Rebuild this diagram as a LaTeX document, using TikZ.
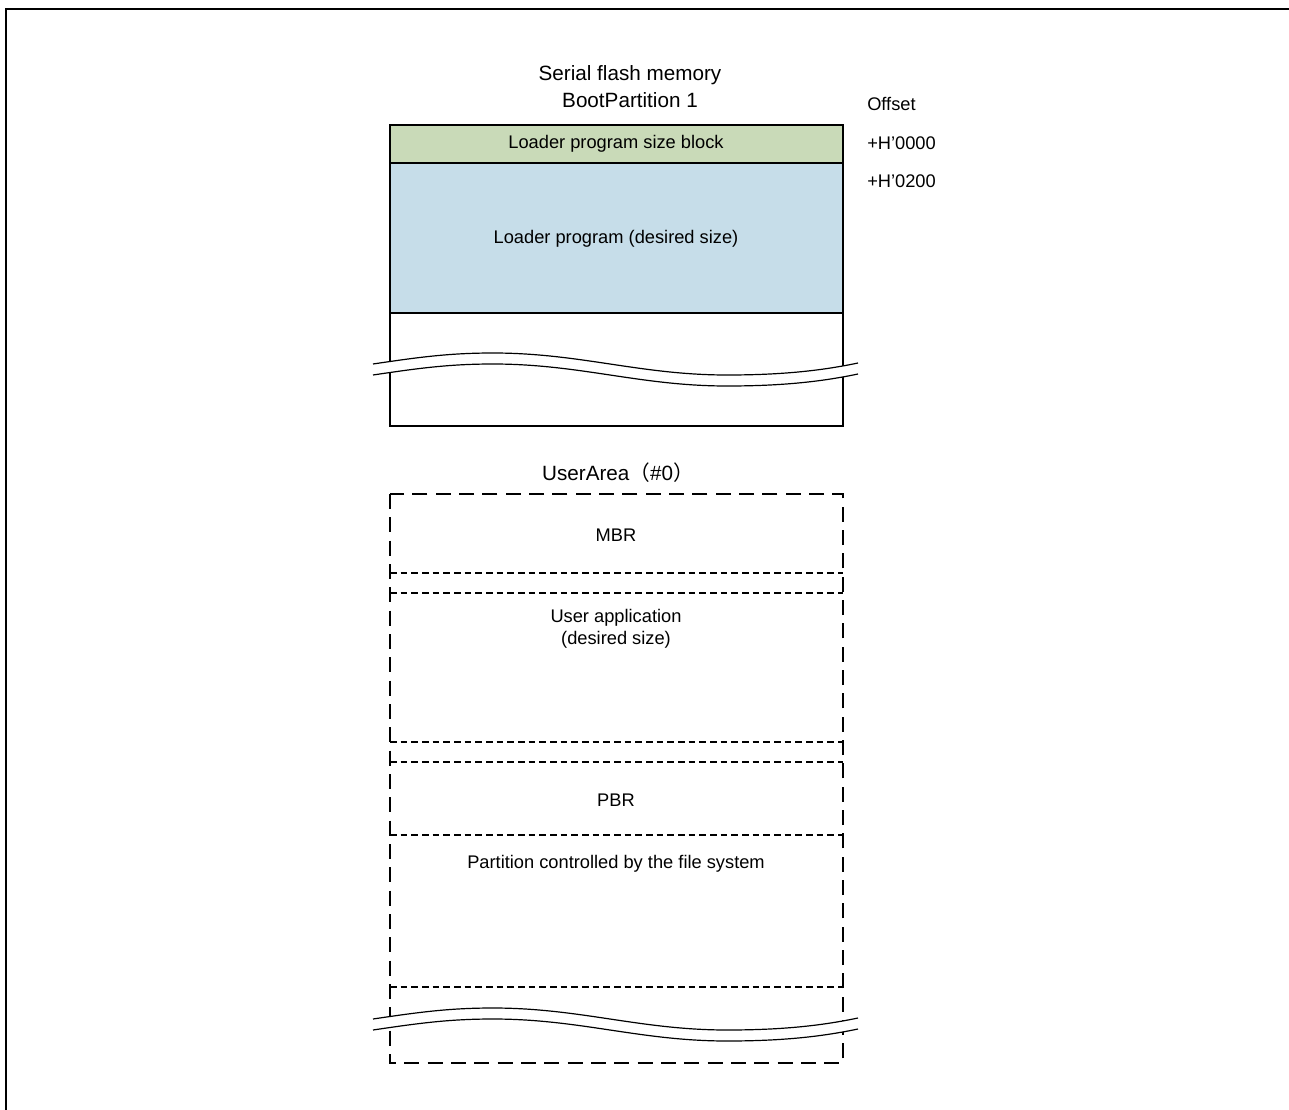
\documentclass[tikz,border=0pt]{standalone}
\usepackage{fontspec}
\setmainfont{Liberation Sans}
\newfontfamily\cjk{Noto Sans CJK SC}
\definecolor{sizegreen}{RGB}{201,218,184}
\definecolor{progblue}{RGB}{198,221,233}
\begin{document}
\begin{tikzpicture}[x=0.75pt,y=0.75pt,yscale=-1,
  lbl/.style={inner sep=0.75pt,font=\fontsize{13.7}{16.5}\selectfont},
  ttl/.style={inner sep=0.75pt,font=\fontsize{15.5}{18}\selectfont},
  blk/.style={draw,line width=1.1pt},
  longdash/.style={line width=1.1pt,dash pattern=on 11.25pt off 6.25pt},
  shortdash/.style={line width=1.1pt,dash pattern=on 5pt off 3pt},
  brk/.style={line width=0.9pt}]
\useasboundingbox (0,0) rectangle (1289,1110);

%Straight Lines (frame)
\draw [line width=1.5pt] (6,1110) -- (6,9) -- (1289,9) ;

%Shape: Rectangle (size block)
\draw [blk,fill=sizegreen] (390,125) rectangle (843,163) ;
%Shape: Rectangle (loader program)
\draw [blk,fill=progblue] (390,163) rectangle (843,313) ;
%Shape: Rectangle (free area)
\draw [blk] (390,313) rectangle (843,426) ;

%Curve Lines (break 1)
\fill [white] (373,364) .. controls (420,357) and (450,353) .. (493,353) .. controls (580,353) and (640,375) .. (727,375) .. controls (780,375) and (820,371) .. (858,363) -- (858,374) .. controls (820,382) and (780,386) .. (727,386) .. controls (640,386) and (580,364) .. (493,364) .. controls (450,364) and (420,368) .. (373,375) -- cycle ;
\draw [brk] (373,364) .. controls (420,357) and (450,353) .. (493,353) .. controls (580,353) and (640,375) .. (727,375) .. controls (780,375) and (820,371) .. (858,363) ;
\draw [brk] (373,375) .. controls (420,368) and (450,364) .. (493,364) .. controls (580,364) and (640,386) .. (727,386) .. controls (780,386) and (820,382) .. (858,374) ;

%Shape: Rectangle (user area)
\draw [longdash] (390,494) rectangle (843,1063) ;
%Straight Lines
\draw [shortdash] (390,573) -- (843,573) ;
\draw [shortdash] (390,593) -- (843,593) ;
\draw [shortdash] (390,742) -- (843,742) ;
\draw [shortdash] (390,762) -- (843,762) ;
\draw [shortdash] (390,835) -- (843,835) ;
\draw [shortdash] (390,987) -- (843,987) ;

%Curve Lines (break 2)
\fill [white] (373,1019) .. controls (420,1012) and (450,1008) .. (493,1008) .. controls (580,1008) and (640,1030) .. (727,1030) .. controls (780,1030) and (820,1026) .. (858,1018) -- (858,1029) .. controls (820,1037) and (780,1041) .. (727,1041) .. controls (640,1041) and (580,1019) .. (493,1019) .. controls (450,1019) and (420,1023) .. (373,1030) -- cycle ;
\draw [brk] (373,1019) .. controls (420,1012) and (450,1008) .. (493,1008) .. controls (580,1008) and (640,1030) .. (727,1030) .. controls (780,1030) and (820,1026) .. (858,1018) ;
\draw [brk] (373,1030) .. controls (420,1023) and (450,1019) .. (493,1019) .. controls (580,1019) and (640,1041) .. (727,1041) .. controls (780,1041) and (820,1037) .. (858,1029) ;

% Text Node
\node [ttl] (flash) at (630,75) {Serial flash memory};
% Text Node
\node [ttl] (bootpart) at (630,100) {BootPartition 1};
% Text Node
\node [lbl,anchor=west] (offset) at (866,104) {Offset};
% Text Node
\node [lbl,anchor=west] (offzero) at (866,143) {+H’0000};
% Text Node
\node [lbl,anchor=west] (offtwo) at (866,181) {+H’0200};
% Text Node
\node [lbl] (sizeblock) at (616,144) {Loader program size block};
% Text Node
\node [lbl] (loader) at (616,239) {Loader program (desired size)};
% Text Node
\node [ttl] (userarea) at (618,473) {UserArea{\cjk（}\#0{\cjk）}};
% Text Node
\node [lbl] (mbr) at (616,535) {MBR};
% Text Node
\node [lbl,align=center] (userapp) at (616,629) {User application\\(desired size)};
% Text Node
\node [lbl] (pbr) at (616,800) {PBR};
% Text Node
\node [lbl] (fsys) at (616,864) {Partition controlled by the file system};

\end{tikzpicture}
\end{document}
